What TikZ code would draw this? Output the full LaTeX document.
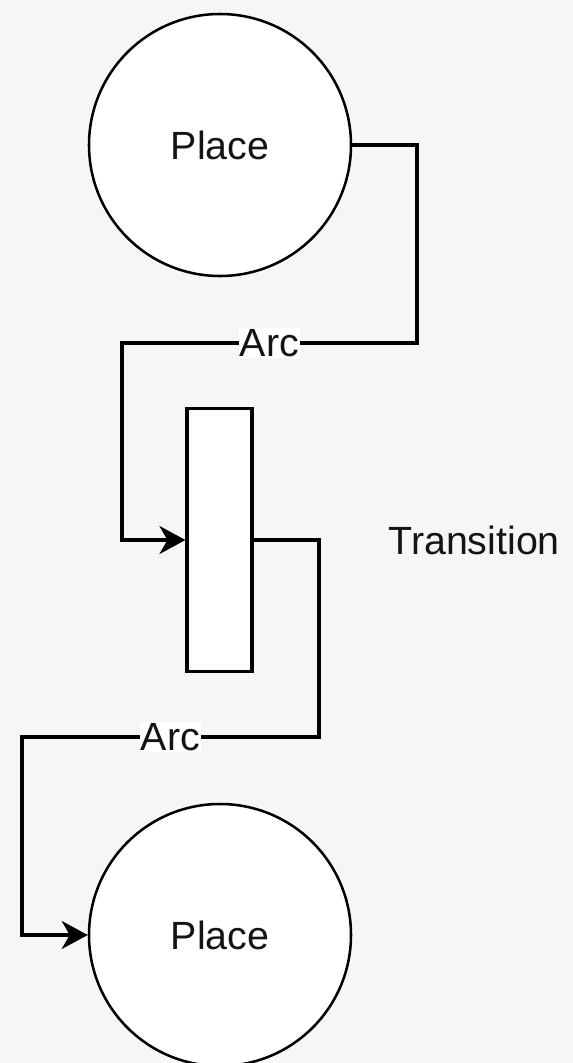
\documentclass[tikz,border=0pt]{standalone}
\usepackage{fontspec}
\setmainfont{Liberation Sans}
\usetikzlibrary{positioning,arrows.meta}

\definecolor{bggray}{RGB}{246,246,246}
\definecolor{inkgray}{RGB}{20,20,20}

\begin{document}
\begin{tikzpicture}[
			>={Stealth[length=6.5mm,width=7mm,inset=2mm]},
			every node/.style={
				font=\fontsize{28}{34}\selectfont,
				text=inkgray
			},
			place/.style={
				draw,
				circle,
				line width=1.8pt,
				fill=white,
				minimum size=6.55cm
			},
			transition/.style={
				draw,
				rectangle,
				line width=2.2pt,
				fill=white,
				minimum width=1.625cm,
				minimum height=6.575cm
			},
			arc/.style={
				->,
				line width=2.4pt
			},
			arclabel/.style={
				fill=white,
				inner sep=1pt
			}
			]
			
			%%%%%%%%%%%%%%%%%%%%%%%%%%%%%%%%%%%%%%%%%%%%%%%%%%%%%%%%%%%%
			% Canvas
			%%%%%%%%%%%%%%%%%%%%%%%%%%%%%%%%%%%%%%%%%%%%%%%%%%%%%%%%%%%%
			
			\fill[bggray] (0,0) rectangle (14.325,-26.575);
			\useasboundingbox (0,0) rectangle (14.325,-26.575);
			
			%%%%%%%%%%%%%%%%%%%%%%%%%%%%%%%%%%%%%%%%%%%%%%%%%%%%%%%%%%%%
			% Places and Transition
			%%%%%%%%%%%%%%%%%%%%%%%%%%%%%%%%%%%%%%%%%%%%%%%%%%%%%%%%%%%%
			
			\node[place] (place1) at (5.5,-3.625) {Place};
			
			\node[transition] (trans) at (5.4875,-13.5) {};
			
			\node (translabel) [right=4.1cm of trans.center, anchor=west]
			{Transition};
			
			\node[place] (place2) at (5.5,-23.375) {Place};
			
			%%%%%%%%%%%%%%%%%%%%%%%%%%%%%%%%%%%%%%%%%%%%%%%%%%%%%%%%%%%%
			% Bends
			%%%%%%%%%%%%%%%%%%%%%%%%%%%%%%%%%%%%%%%%%%%%%%%%%%%%%%%%%%%%
			
			\coordinate (bend1) at (10.425,-8.575);
			\coordinate (bend2) at (3.05,-8.575);
			
			\coordinate (bend3) at (7.975,-18.425);
			\coordinate (bend4) at (0.55,-18.425);
			
			%%%%%%%%%%%%%%%%%%%%%%%%%%%%%%%%%%%%%%%%%%%%%%%%%%%%%%%%%%%%
			% Arcs
			%%%%%%%%%%%%%%%%%%%%%%%%%%%%%%%%%%%%%%%%%%%%%%%%%%%%%%%%%%%%
			
			% Place to Transition
			
			\draw[arc] (place1.east) -| (bend1)
				-- node[arclabel]{Arc} (bend2) |- (trans.west);
			
			% Transition to Place
			
			\draw[arc] (trans.east) -| (bend3)
				-- node[arclabel]{Arc} (bend4) |- (place2.west);
			
			%%%%%%%%%%%%%%%%%%%%%%%%%%%%%%%%%%%%%%%%%%%%%%%%%%%%%%%%%%%%
			
		\end{tikzpicture}
\end{document}
